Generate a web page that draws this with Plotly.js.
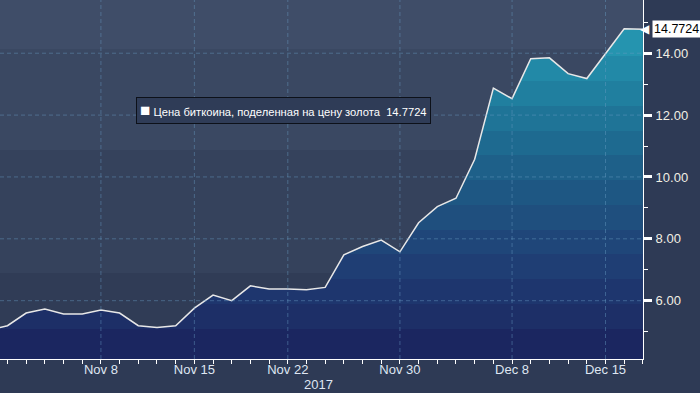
<!DOCTYPE html>
<html>
<head>
<meta charset="utf-8">
<script src="https://cdn.plot.ly/plotly-3.0.1.min.js"></script>
<style>html,body{margin:0;padding:0;background:#2e3a55;}#chart{width:700px;height:393px;}</style>
</head>
<body>
<div id="chart"></div>
<script>
// ---- data ----
const dates = ['2017-10-31','2017-11-01','2017-11-02','2017-11-03','2017-11-06','2017-11-07','2017-11-08','2017-11-09','2017-11-10',
  '2017-11-13','2017-11-14','2017-11-15','2017-11-16','2017-11-17','2017-11-20','2017-11-21','2017-11-22','2017-11-23','2017-11-24',
  '2017-11-27','2017-11-28','2017-11-29','2017-11-30','2017-12-01','2017-12-04','2017-12-05','2017-12-06','2017-12-07','2017-12-08',
  '2017-12-11','2017-12-12','2017-12-13','2017-12-14','2017-12-15','2017-12-18','2017-12-19'];
const ratio = [5.04,5.19,5.60,5.73,5.57,5.57,5.70,5.60,5.19,
  5.13,5.19,5.76,6.18,6.00,6.48,6.38,6.38,6.35,6.43,
  7.48,7.75,7.96,7.58,8.52,9.04,9.31,10.57,12.87,12.53,
  13.82,13.85,13.34,13.18,14.00,14.79,14.7724];
const seriesName = 'Цена биткоина, поделенная на цену золота';
const xTickVals = ['2017-11-08','2017-11-15','2017-11-22','2017-11-30','2017-12-08','2017-12-15'];
const xTickText = ['Nov 8','Nov 15','Nov 22','Nov 30','Dec 8','Dec 15'];
const yTickVals = [6,8,10,12,14];
const yearLabel = '2017';

// ---- style ----
const FONT = 'Liberation Sans, Arial, sans-serif';
const yRange = [4.115, 15.72];
const gradStart = 4.1, gradStop = 14.8;
const bandEdges = [4.1,5.1,5.9,6.7,7.5,8.3,9.1,9.9,10.7,11.5,12.3,13.1,13.9,14.8];
const bandColors = ['#1b2660','#1d2f67','#1e366e','#1f3e74','#1f4679','#1f4f7e','#1e5783','#1e6089','#1e6a90','#1f7497','#207f9f','#2289a7','#2594af'];
const cs = [];
for (let i = 0; i < bandColors.length; i++) {
  const a = (bandEdges[i]-gradStart)/(gradStop-gradStart);
  const b = (bandEdges[i+1]-gradStart)/(gradStop-gradStart);
  cs.push([Math.max(0,a), bandColors[i]]);
  cs.push([Math.min(1,b), bandColors[i]]);
}

const trace = {
  x: dates, y: ratio, type: 'scatter', mode: 'lines', name: seriesName,
  line: {color: '#e8e8e8', width: 1.5},
  fill: 'tozeroy',
  fillgradient: {type: 'vertical', colorscale: cs, start: gradStart, stop: gradStop},
  hoverinfo: 'skip', showlegend: false
};

const gridColor = 'rgba(105,155,195,0.45)';
const shapes = [];
// background bands
const bgBands = [[0.8635,1,'#3f4d68'],[0.582,0.8635,'#3a4862'],[0.2396,0.582,'#35425c'],[0,0.2396,'#303c56']];
bgBands.forEach(b => shapes.push({type:'rect', xref:'paper', yref:'paper', x0:0, x1:1, y0:b[0], y1:b[1], fillcolor:b[2], line:{width:0}, layer:'below'}));
// grid lines above the fill
xTickVals.forEach(v => shapes.push({type:'line', xref:'x', yref:'paper', x0:v, x1:v, y0:0, y1:1, line:{color:gridColor, width:1, dash:'4px,3px'}, layer:'above'}));
yTickVals.forEach(v => shapes.push({type:'line', xref:'paper', yref:'y', x0:0, x1:1, y0:v, y1:v, line:{color:gridColor, width:1, dash:'4px,3px'}, layer:'above'}));

const last = ratio[ratio.length-1];
const annotations = [
  {xref:'paper', yref:'paper', x:0.2115, y:0.7298, xanchor:'left', yanchor:'top', showarrow:false,
   text:"<span style='font-size:17px'>■</span> " + seriesName + '  ' + last.toFixed(4),
   font:{family:FONT, size:11.2, color:'#ffffff'}, bgcolor:'#2f3c57', bordercolor:'#0d1119', borderwidth:1, borderpad:3},
  {xref:'paper', yref:'y', x:1, y:last, xanchor:'left', yanchor:'middle', xshift:9, showarrow:false,
   text:last.toFixed(4), font:{family:FONT, size:12.5, color:'#000000'}, bgcolor:'#ffffff', borderpad:1},
  {xref:'paper', yref:'y', x:1, y:last, xanchor:'right', yanchor:'middle', xshift:9, showarrow:false,
   text:'◀', font:{family:'DejaVu Sans', size:12, color:'#ffffff'}},
  {xref:'paper', yref:'paper', x:0.4946, y:-0.0724, xanchor:'center', yanchor:'middle', showarrow:false,
   text:yearLabel, font:{family:FONT, size:13, color:'#dfe6f2'}}
];

const layout = {
  width: 700, height: 393,
  margin: {l:0, r:57, t:0, b:34},
  paper_bgcolor: '#2e3a55', plot_bgcolor: '#35425c',
  font: {family: FONT, color: '#dfe6f2'},
  showlegend: false,
  hovermode: false,
  xaxis: {
    type: 'date', range: ['2017-10-31 14:24', '2017-12-19 00:10'],
    rangebreaks: [{bounds: ['sat', 'mon']}],
    tickmode: 'array', tickvals: xTickVals, ticktext: xTickText,
    ticks: 'outside', ticklen: 4, tickcolor: '#ffffff', ticklabelstandoff: -6,
    minor: {tickmode: 'linear', tick0: '2017-10-30', dtick: 86400000, ticks: 'outside', ticklen: 4, tickcolor: '#ffffff', showgrid: false},
    showgrid: false, zeroline: false,
    showline: true, linecolor: '#ffffff', linewidth: 1,
    tickfont: {family: FONT, size: 13, color: '#dfe6f2'}
  },
  yaxis: {
    side: 'right', range: yRange,
    tickmode: 'array', tickvals: yTickVals, ticktext: yTickVals.map(v => v.toFixed(2)),
    ticks: 'outside', ticklen: 8, tickwidth: 3, tickcolor: '#ffffff', ticklabelstandoff: 1,
    minor: {tickmode: 'linear', tick0: 1, dtick: 2, ticks: 'outside', ticklen: 4, tickwidth: 1, tickcolor: '#ffffff', showgrid: false},
    showgrid: false, zeroline: false,
    showline: true, linecolor: '#ffffff', linewidth: 1,
    tickfont: {family: FONT, size: 13, color: '#f2efe4'}
  },
  shapes: shapes,
  annotations: annotations
};

Plotly.newPlot('chart', [trace], layout, {displayModeBar: false, staticPlot: true});
</script>
</body>
</html>
